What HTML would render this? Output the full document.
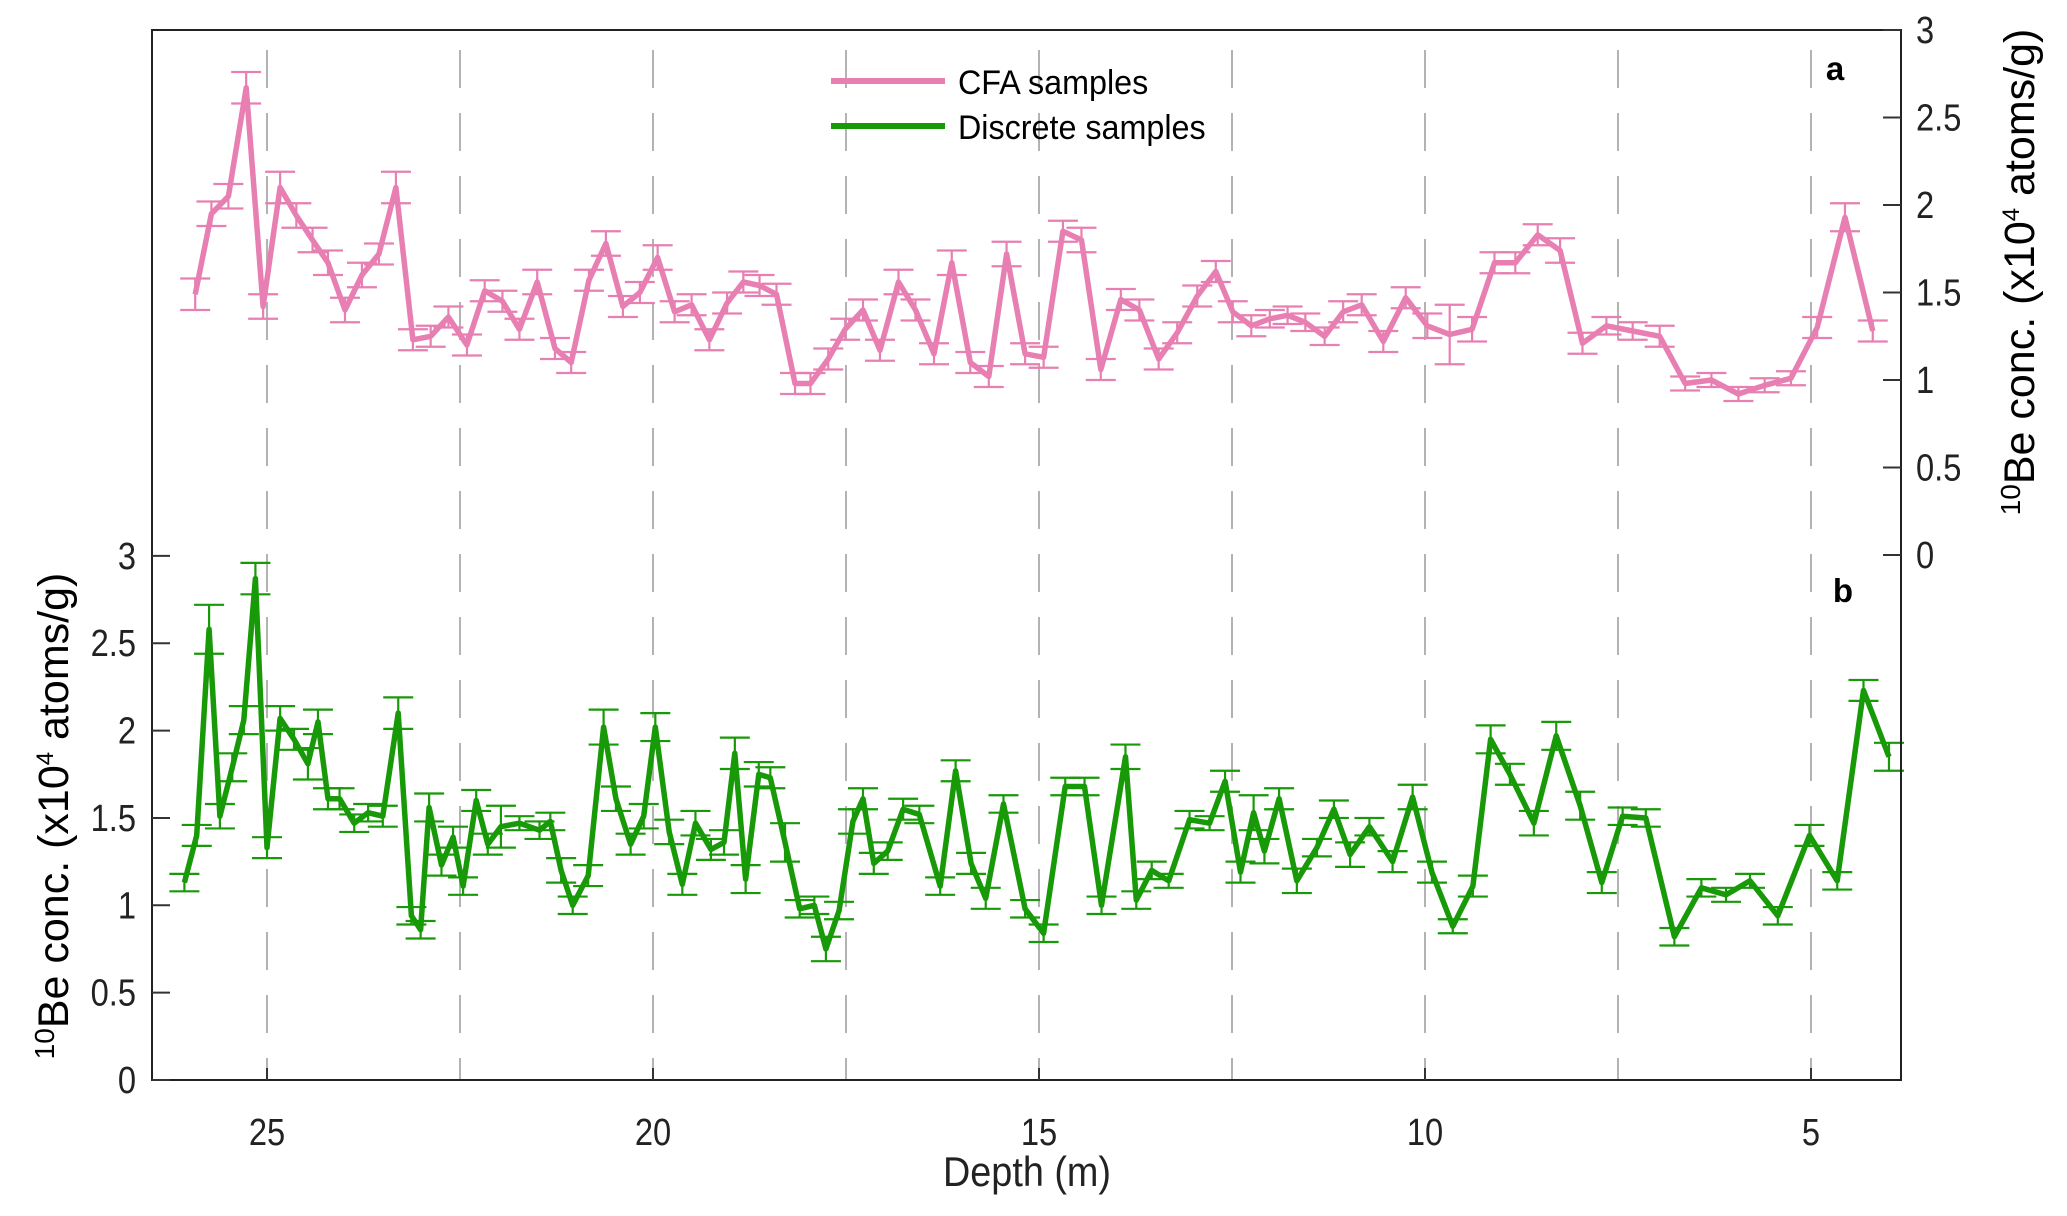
<!DOCTYPE html>
<html><head><meta charset="utf-8"><style>
html,body{margin:0;padding:0;background:#fff;}
svg{display:block;font-family:"Liberation Sans",Arial,sans-serif;}
</style></head><body>
<svg id="chart" width="2067" height="1216" viewBox="0 0 2067 1216" xmlns="http://www.w3.org/2000/svg">
<rect x="0" y="0" width="2067" height="1216" fill="#fff"/>
<g id="grid"></g>
<g id="seriesA"></g>
<g id="seriesB"></g>
<g id="axes"></g>
<text x="1835" y="80" font-size="33" font-weight="bold" text-anchor="middle">a</text>
<text x="1843" y="602" font-size="33" font-weight="bold" text-anchor="middle">b</text>
<g>
<line x1="831" y1="81" x2="945" y2="81" stroke="#e87fb2" stroke-width="6"/>
<text x="958" y="94" font-size="34" transform="translate(958,0) scale(0.95,1) translate(-958,0)">CFA samples</text>
<line x1="831" y1="126" x2="945" y2="126" stroke="#189908" stroke-width="6"/>
<text x="958" y="139" font-size="34" transform="translate(958,0) scale(0.95,1) translate(-958,0)">Discrete samples</text>
</g>
<text x="1027" y="1186" font-size="42" text-anchor="middle" fill="#222" transform="translate(1027,0) scale(0.9,1) translate(-1027,0)">Depth (m)</text>
<text transform="translate(68,816) rotate(-90)" font-size="43" text-anchor="middle"><tspan font-size="28" dy="-14">10</tspan><tspan dy="14">Be conc. (x10</tspan><tspan font-size="24" dy="-15">4</tspan><tspan dy="15"> atoms/g)</tspan></text>
<text transform="translate(2034,272) rotate(-90)" font-size="43" text-anchor="middle"><tspan font-size="28" dy="-14">10</tspan><tspan dy="14">Be conc. (x10</tspan><tspan font-size="24" dy="-15">4</tspan><tspan dy="15"> atoms/g)</tspan></text>
</svg>
<script>
// ---- data ----
const cfaDepth = [25.93,25.72,25.50,25.27,25.05,24.83,24.62,24.41,24.21,23.99,23.77,23.55,23.33,23.11,22.88,22.65,22.41,22.18,21.95,21.73,21.50,21.27,21.06,20.83,20.61,20.39,20.17,19.94,19.72,19.50,19.27,19.04,18.83,18.62,18.40,18.16,17.96,17.73,17.51,17.28,17.06,16.82,16.60,16.36,16.13,15.89,15.65,15.42,15.18,14.94,14.69,14.45,14.20,13.94,13.70,13.45,13.21,12.95,12.71,12.49,12.25,12.01,11.78,11.55,11.30,11.06,10.82,10.54,10.25,9.97,9.68,9.39,9.10,8.83,8.54,8.25,7.96,7.65,7.31,6.96,6.63,6.29,5.94,5.60,5.26,4.92,4.56,4.20];
const cfaValue = [1.49,1.95,2.05,2.67,1.42,2.10,1.94,1.80,1.67,1.40,1.60,1.72,2.10,1.23,1.25,1.36,1.20,1.51,1.45,1.29,1.56,1.18,1.10,1.57,1.78,1.42,1.50,1.70,1.39,1.43,1.23,1.44,1.56,1.54,1.49,0.98,0.98,1.12,1.29,1.40,1.17,1.56,1.40,1.15,1.67,1.10,1.02,1.72,1.15,1.13,1.85,1.80,1.06,1.46,1.40,1.12,1.27,1.48,1.62,1.39,1.31,1.35,1.37,1.33,1.25,1.39,1.43,1.22,1.47,1.31,1.26,1.29,1.67,1.67,1.83,1.74,1.21,1.31,1.28,1.25,0.98,1.00,0.92,0.97,1.01,1.30,1.93,1.28];
const cfaErr = [0.09,0.07,0.07,0.09,0.07,0.09,0.07,0.07,0.07,0.07,0.07,0.06,0.09,0.06,0.06,0.06,0.06,0.06,0.06,0.06,0.07,0.06,0.06,0.06,0.07,0.06,0.06,0.07,0.06,0.06,0.06,0.06,0.06,0.06,0.06,0.06,0.06,0.06,0.06,0.06,0.06,0.07,0.06,0.06,0.07,0.06,0.06,0.07,0.06,0.06,0.06,0.07,0.06,0.06,0.06,0.06,0.06,0.06,0.06,0.06,0.06,0.05,0.05,0.05,0.05,0.06,0.06,0.06,0.06,0.07,0.17,0.07,0.06,0.06,0.06,0.07,0.06,0.05,0.05,0.06,0.04,0.04,0.04,0.04,0.04,0.06,0.08,0.06];
const discDepth = [26.07,25.91,25.75,25.61,25.45,25.30,25.15,25.00,24.83,24.65,24.47,24.34,24.21,24.06,23.87,23.69,23.50,23.30,23.13,23.01,22.90,22.74,22.59,22.46,22.29,22.14,21.97,21.73,21.47,21.33,21.19,21.04,20.84,20.64,20.48,20.29,20.12,19.97,19.79,19.62,19.45,19.25,19.08,18.94,18.80,18.63,18.48,18.29,18.10,17.91,17.76,17.59,17.41,17.28,17.14,16.96,16.76,16.55,16.28,16.08,15.88,15.69,15.46,15.18,14.94,14.66,14.41,14.19,13.88,13.74,13.54,13.32,13.05,12.79,12.59,12.39,12.22,12.08,11.89,11.66,11.40,11.18,10.97,10.72,10.42,10.16,9.91,9.64,9.38,9.15,8.90,8.59,8.30,7.99,7.71,7.44,7.14,6.77,6.42,6.10,5.79,5.43,5.02,4.66,4.32,3.99];
const discValue = [1.13,1.40,2.58,1.51,1.79,2.06,2.87,1.33,2.07,1.95,1.81,2.05,1.61,1.61,1.47,1.53,1.51,2.10,0.94,0.86,1.56,1.23,1.39,1.11,1.60,1.35,1.45,1.47,1.43,1.48,1.20,1.00,1.17,2.02,1.61,1.35,1.51,2.02,1.42,1.12,1.47,1.32,1.36,1.87,1.15,1.75,1.73,1.36,0.98,1.00,0.75,0.97,1.48,1.61,1.24,1.31,1.55,1.52,1.11,1.77,1.24,1.04,1.58,0.98,0.84,1.68,1.68,1.00,1.85,1.03,1.20,1.14,1.49,1.47,1.71,1.19,1.53,1.31,1.61,1.14,1.33,1.55,1.29,1.45,1.25,1.62,1.19,0.88,1.11,1.95,1.75,1.47,1.97,1.57,1.13,1.51,1.50,0.82,1.10,1.06,1.14,0.94,1.40,1.14,2.23,1.85];
const discErr = [0.05,0.06,0.14,0.07,0.08,0.08,0.09,0.06,0.07,0.06,0.09,0.07,0.06,0.06,0.05,0.05,0.06,0.09,0.05,0.05,0.08,0.06,0.06,0.05,0.06,0.06,0.12,0.04,0.05,0.05,0.07,0.05,0.06,0.10,0.07,0.06,0.07,0.08,0.07,0.06,0.07,0.06,0.07,0.09,0.08,0.07,0.06,0.11,0.05,0.05,0.07,0.05,0.07,0.06,0.06,0.05,0.06,0.05,0.05,0.06,0.06,0.06,0.05,0.05,0.05,0.05,0.05,0.05,0.07,0.05,0.05,0.04,0.05,0.04,0.06,0.06,0.10,0.07,0.06,0.07,0.05,0.05,0.07,0.05,0.06,0.07,0.06,0.04,0.06,0.08,0.06,0.07,0.08,0.08,0.06,0.05,0.05,0.05,0.05,0.04,0.04,0.05,0.06,0.05,0.06,0.08];
const xTicks = [25,20,15,10,5];
const gridDepths = [25,22.5,20,17.5,15,12.5,10,7.5,5];
const yTicksA = [0,0.5,1,1.5,2,2.5,3];
const yTicksB = [0,0.5,1,1.5,2,2.5,3];

// ---- axes ----
const NS = "http://www.w3.org/2000/svg";
const L = 152, R = 1901, T = 30, B = 1080;
const X = d => 653 + (20 - d) * 77.2;
const YA = v => 555 - v * 175;
const YB = v => 1080 - v * 174.7;
function mk(tag, attrs, parent){ const e = document.createElementNS(NS, tag); for (const k in attrs) e.setAttribute(k, attrs[k]); parent.appendChild(e); return e; }
function sx(x){ return `translate(${x},0) scale(0.86,1) translate(${-x},0)`; }

const grid = document.getElementById('grid');
gridDepths.forEach(d => {
  const g = mk('line', {x1:X(d), x2:X(d), y1:T, y2:B, stroke:'#b3b3b3', 'stroke-width':2, 'stroke-dasharray':'38 25', 'stroke-dashoffset':'-20'}, grid);
  
  
});

function drawSeries(gid, depth, val, err, Y, color, cls){
  const g = document.getElementById(gid);
  for (let i = 0; i < depth.length; i++) {
    const x = X(depth[i]), y1 = Y(val[i] + err[i]), y2 = Y(val[i] - err[i]);
    const eb = mk('path', {d:`M${x},${y1}V${y2}M${x-15},${y1}H${x+15}M${x-15},${y2}H${x+15}`, stroke:color, 'stroke-width':2.2, fill:'none'}, g);
    
    
  }
  const pts = depth.map((d, i) => X(d).toFixed(1) + ',' + Y(val[i]).toFixed(1)).join(' ');
  const pl = mk('polyline', {points:pts, fill:'none', stroke:color, 'stroke-width':5.5, 'stroke-linejoin':'round'}, g);
  
  
}
drawSeries('seriesA', cfaDepth, cfaValue, cfaErr, YA, '#e87fb2', 'cfa');
drawSeries('seriesB', discDepth, discValue, discErr, YB, '#189908', 'discrete');

const ax = document.getElementById('axes');
const frame = mk('rect', {x:L, y:T, width:R-L, height:B-T, fill:'none', stroke:'#222', 'stroke-width':2}, ax);


xTicks.forEach(d => {
  const t = mk('line', {x1:X(d), x2:X(d), y1:B, y2:B-12, stroke:'#333', 'stroke-width':2}, ax);
  
  
  const lb = mk('text', {x:X(d), y:1145, 'font-size':38, 'text-anchor':'middle', fill:'#222', transform:sx(X(d))}, ax);
  lb.textContent = d;
  
  
});
yTicksB.forEach(v => {
  const t = mk('line', {x1:L, x2:L+18, y1:YB(v), y2:YB(v), stroke:'#333', 'stroke-width':2}, ax);
  
  
  const lb = mk('text', {x:136, y:YB(v)+13, 'font-size':38, 'text-anchor':'end', fill:'#222', transform:sx(136)}, ax);
  lb.textContent = v;
  
  
});
yTicksA.forEach(v => {
  const t = mk('line', {x1:R-18, x2:R, y1:YA(v), y2:YA(v), stroke:'#333', 'stroke-width':2}, ax);
  
  
  const lb = mk('text', {x:1916, y:YA(v)+13, 'font-size':38, 'text-anchor':'start', fill:'#222', transform:sx(1916)}, ax);
  lb.textContent = v;
  
  
});
</script>
</body></html>
